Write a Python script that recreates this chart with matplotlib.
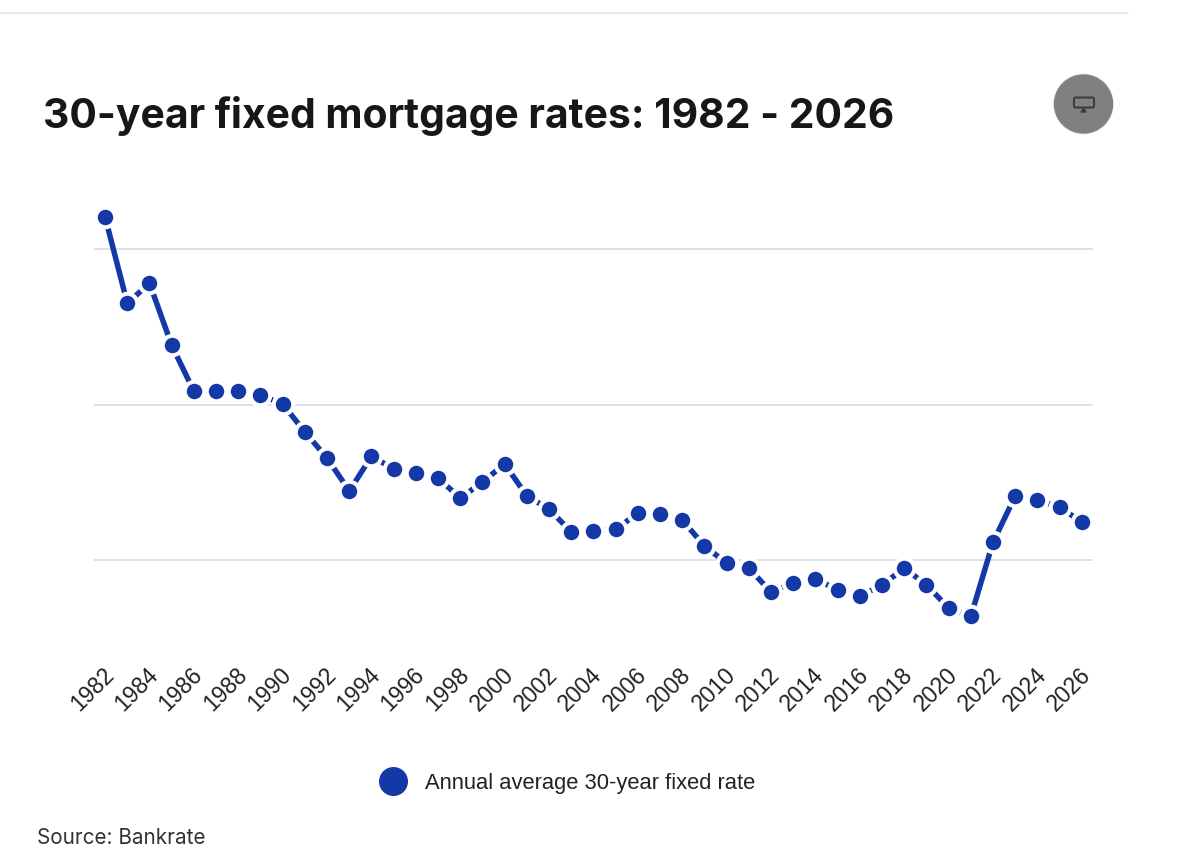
import matplotlib
matplotlib.use("Agg")
import matplotlib.pyplot as plt
from matplotlib.lines import Line2D
from matplotlib.patches import Circle, FancyBboxPatch, Polygon
from matplotlib.transforms import ScaledTranslation

# annual average rate (gridlines taken as 5/10/15 %)
years = list(range(1982, 2027))
rates = [16.03, 13.26, 13.90, 11.91, 10.43, 10.43, 10.43, 10.30, 10.02, 9.12,
         8.28, 7.22, 8.34, 7.93, 7.80, 7.64, 6.99, 7.51, 8.09, 7.06,
         6.64, 5.90, 5.93, 5.99, 6.51, 6.48, 6.29, 5.45, 4.90, 4.74,
         3.97, 4.26, 4.39, 4.04, 3.84, 4.20, 4.74, 4.20, 3.46, 3.20,
         5.58, 7.06, 6.93, 6.70, 6.22]
grid_values = [5, 10, 15]
tick_years = list(range(1982, 2027, 2))

TITLE = "30-year fixed mortgage rates: 1982 - 2026"
SERIES = "Annual average 30-year fixed rate"
SOURCE = "Source: Bankrate"
BLUE = "#1438a6"
PX = 0.72  # points per pixel at dpi=100

fig = plt.figure(figsize=(12, 8.64), dpi=100, facecolor="white")

# overlay in image pixels for the page furniture
page = fig.add_axes([0, 0, 1, 1], zorder=3)
page.set_xlim(0, 1200)
page.set_ylim(864, 0)
page.axis("off")
page.plot([0, 1128], [12.5, 12.5], color="#e2e4ee", lw=1.5 * PX)
page.text(43, 116, TITLE, fontsize=29.4, fontweight="bold", family="Inter",
          color="#171717", va="center", ha="left")
page.text(37, 838, SOURCE, fontsize=14.9, family="Inter", color="#333333",
          va="center", ha="left")

# monitor button
page.add_patch(Circle((1083.5, 104), 30, color="#f0f0f0", zorder=1))
page.add_patch(Circle((1083.5, 104), 29, color="#808080", zorder=2))
page.add_patch(FancyBboxPatch((1074, 97.5), 20, 10, boxstyle="round,pad=0,rounding_size=1.5",
                              fc="none", ec="#3c3c3c", lw=2 * PX, zorder=3))
page.add_patch(Polygon([(1081, 112), (1083.5, 108), (1086, 112)], color="#3c3c3c", zorder=3))

ax = fig.add_axes([94 / 1200, (864 - 640) / 864, (1093 - 94) / 1200, 440 / 864])
ax.plot(years, rates, color=BLUE, lw=5.5 * PX, solid_capstyle="butt", zorder=2,
        marker="o", ms=19.5 * PX, mfc=BLUE, mec="white", mew=4 * PX, clip_on=False)
ax.set_xlim(1981.5, 2026.5)
ax.set_ylim(2.43, 16.58)
ax.set_yticks(grid_values)
ax.set_yticklabels([])
ax.set_xticks(tick_years)
ax.set_xticklabels(tick_years, rotation=45, ha="right", va="top", rotation_mode="anchor",
                   fontsize=16.5, family="Liberation Sans", color="#222222")
ax.tick_params(axis="both", length=0)
ax.tick_params(axis="x", pad=17)
shift = ScaledTranslation(-3 / 100, 0, fig.dpi_scale_trans)
for lab in ax.get_xticklabels():
    lab.set_transform(lab.get_transform() + shift)
ax.grid(axis="y", color="#d5d7dc", lw=1.5 * PX)
ax.set_axisbelow(True)
for side in ax.spines.values():
    side.set_visible(False)

handle = Line2D([], [], ls="none", marker="o", ms=29 * PX, color=BLUE, mew=0)
fig.legend([handle], [SERIES], loc="center", bbox_to_anchor=(563.5 / 1200, 1 - 783 / 864),
           frameon=False, prop={"family": "Liberation Sans", "size": 15.8},
           handletextpad=0.45, labelcolor="#222222")

fig.savefig("out.png", dpi=100)
